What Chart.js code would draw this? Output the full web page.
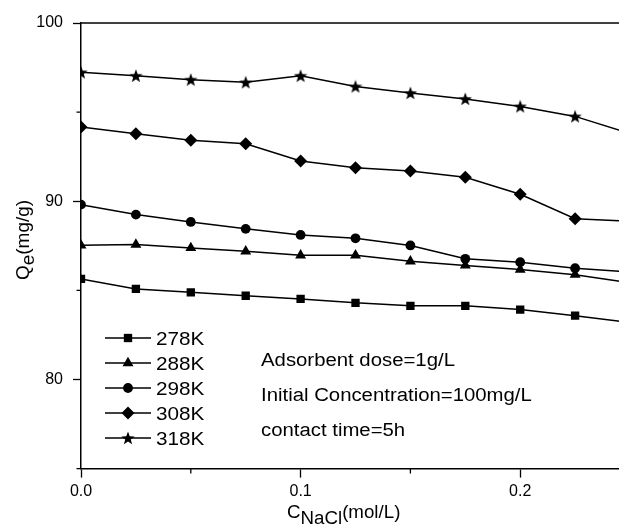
<!DOCTYPE html>
<html>
<head>
<meta charset="utf-8">
<script src="https://cdn.jsdelivr.net/npm/chart.js@4/dist/chart.umd.min.js"></script>
<style>
  html, body { margin: 0; padding: 0; background: #fff; overflow: hidden; }
  #wrap { position: relative; width: 660px; height: 531px; }
</style>
</head>
<body>
<div id="wrap"><canvas id="chart"></canvas></div>
<script>
"use strict";

// NaCl concentration (mol/L) and adsorption capacity Qe (mg/g) per temperature
const NACL = [0, 0.025, 0.05, 0.075, 0.1, 0.125, 0.15, 0.175, 0.2, 0.225, 0.25];
const QE_278K = [85.64, 85.08, 84.89, 84.70, 84.52, 84.30, 84.13, 84.13, 83.92, 83.58, 83.20];
const QE_288K = [87.53, 87.57, 87.38, 87.19, 86.97, 86.97, 86.63, 86.40, 86.17, 85.88, 85.42];
const QE_298K = [89.81, 89.25, 88.84, 88.45, 88.11, 87.92, 87.52, 86.77, 86.58, 86.24, 86.03];
const QE_308K = [94.17, 93.79, 93.42, 93.23, 92.26, 91.88, 91.70, 91.34, 90.39, 89.02, 88.88];
const QE_318K = [97.23, 97.04, 96.82, 96.67, 97.04, 96.44, 96.07, 95.74, 95.32, 94.76, 93.80];

const LABELS = ["278K", "288K", "298K", "308K", "318K"];
const X_TICKS = [0, 0.1, 0.2];
const X_MINOR = [0.05, 0.15, 0.25];
const Y_TICKS = [80, 90, 100];
const Y_MINOR = [75, 85, 95];
const NOTES = ["Adsorbent dose=1g/L", "Initial Concentration=100mg/L", "contact time=5h"];

const FONT = "'Liberation Sans', Arial, sans-serif";
const INK = "#000";

// filled five-point star, used as an image point style
const STAR = (() => {
  const c = document.createElement("canvas");
  c.width = c.height = 14;
  const g = c.getContext("2d");
  g.beginPath();
  for (let i = 0; i < 10; i++) {
    const r = i % 2 ? 2.9 : 7;
    const a = -Math.PI / 2 + i * Math.PI / 5;
    g.lineTo(7 + r * Math.cos(a), 7.6 + r * Math.sin(a));
  }
  g.closePath();
  g.fillStyle = INK;
  g.fill();
  return c;
})();

const MARKERS = [
  { pointStyle: "rect", radius: 5.9 },
  { pointStyle: "triangle", radius: 6.3 },
  { pointStyle: "circle", radius: 4.9 },
  { pointStyle: "rectRot", radius: 6.5 },
  { pointStyle: STAR, radius: 6 },
];

const SERIES = [QE_278K, QE_288K, QE_298K, QE_308K, QE_318K];

const datasets = SERIES.map((vals, i) => ({
  label: LABELS[i],
  data: NACL.map((x, j) => ({ x, y: vals[j] })),
  borderColor: INK,
  backgroundColor: INK,
  borderWidth: 1.5,
  pointStyle: MARKERS[i].pointStyle,
  pointRadius: MARKERS[i].radius,
  pointBorderWidth: 0,
  tension: 0,
}));

// text drawn slightly wide, like the printed figure
function wideText(ctx, text, x, y, sx) {
  ctx.save();
  ctx.translate(x, y);
  ctx.scale(sx, 1);
  ctx.fillText(text, 0, 0);
  ctx.restore();
  return ctx.measureText(text).width * sx;
}

// frame top, minor ticks, legend, notes and axis titles
const decor = {
  id: "decor",
  afterDraw(chart) {
    const { ctx, chartArea: { top, bottom, left, right } } = chart;
    const xs = chart.scales.x, ys = chart.scales.y;
    ctx.save();
    ctx.strokeStyle = INK;
    ctx.lineWidth = 1.5;
    ctx.beginPath();
    ctx.moveTo(left, top); ctx.lineTo(right, top);
    ctx.stroke();

    ctx.lineWidth = 1.3;
    ctx.beginPath();
    Y_MINOR.forEach((v) => {
      const y = ys.getPixelForValue(v);
      ctx.moveTo(left - 4.5, y); ctx.lineTo(left, y);
    });
    X_MINOR.forEach((v) => {
      const x = xs.getPixelForValue(v);
      ctx.moveTo(x, bottom); ctx.lineTo(x, bottom + 5);
    });
    ctx.stroke();

    // legend: line with marker, then label
    ctx.fillStyle = INK;
    ctx.font = `19px ${FONT}`;
    ctx.textBaseline = "alphabetic";
    LABELS.forEach((lab, i) => {
      const y = 338 + i * 25;
      ctx.lineWidth = 1.5;
      ctx.beginPath();
      ctx.moveTo(105, y); ctx.lineTo(151, y);
      ctx.stroke();
      Chart.helpers.drawPoint(ctx, { pointStyle: MARKERS[i].pointStyle, radius: MARKERS[i].radius, rotation: 0, borderWidth: 0 }, 128, y);
      wideText(ctx, lab, 156, y + 7, 1.09);
    });

    ctx.font = `18px ${FONT}`;
    NOTES.forEach((t, i) => wideText(ctx, t, 261, 366 + i * 35, 1.13));

    // x title: C with subscript NaCl, then unit
    ctx.font = `18px ${FONT}`;
    let x = 287;
    x += wideText(ctx, "C", x, 518, 1.04);
    x += wideText(ctx, "NaCl", x, 524, 1.04);
    wideText(ctx, "(mol/L)", x, 518, 1.04);

    // y title, rotated: Q with subscript e, then unit
    ctx.font = `19px ${FONT}`;
    ctx.translate(29, 240);
    ctx.rotate(-Math.PI / 2);
    const wq = ctx.measureText("Q").width, we = ctx.measureText("e").width;
    const wu = ctx.measureText("(mg/g)").width;
    let tx = -(wq + we + wu) / 2;
    ctx.fillText("Q", tx, 0); tx += wq;
    ctx.fillText("e", tx, 5); tx += we;
    ctx.fillText("(mg/g)", tx, 0);
    ctx.restore();
  },
};

new Chart(document.getElementById("chart"), {
  type: "line",
  data: { datasets },
  plugins: [decor],
  options: {
    responsive: true,
    maintainAspectRatio: false,
    animation: false,
    events: [],
    layout: { padding: { top: 23, right: 30, left: 0, bottom: 0 } },
    scales: {
      x: {
        type: "linear",
        min: 0, max: 0.25,
        afterBuildTicks: (s) => { s.ticks = X_TICKS.map((value) => ({ value })); },
        afterFit: (s) => { s.height = 62.4; },
        ticks: { callback: (v) => v.toFixed(1), color: INK, padding: 4, maxRotation: 0,
                 font: { family: FONT, size: 16 } },
        grid: { drawOnChartArea: false, tickLength: 9, color: INK, tickWidth: 1.3 },
        border: { color: INK, width: 1.5 },
      },
      y: {
        min: 75, max: 100,
        afterBuildTicks: (s) => { s.ticks = Y_TICKS.map((value) => ({ value })); },
        afterFit: (s) => { s.width = 81; },
        ticks: { callback: (v) => String(v), color: INK, padding: 10,
                 font: { family: FONT, size: 16 } },
        grid: { drawOnChartArea: false, tickLength: 8, color: INK, tickWidth: 1.3 },
        border: { color: INK, width: 1.5 },
      },
    },
    plugins: { legend: { display: false }, tooltip: { enabled: false } },
  },
});
</script>
</body>
</html>
